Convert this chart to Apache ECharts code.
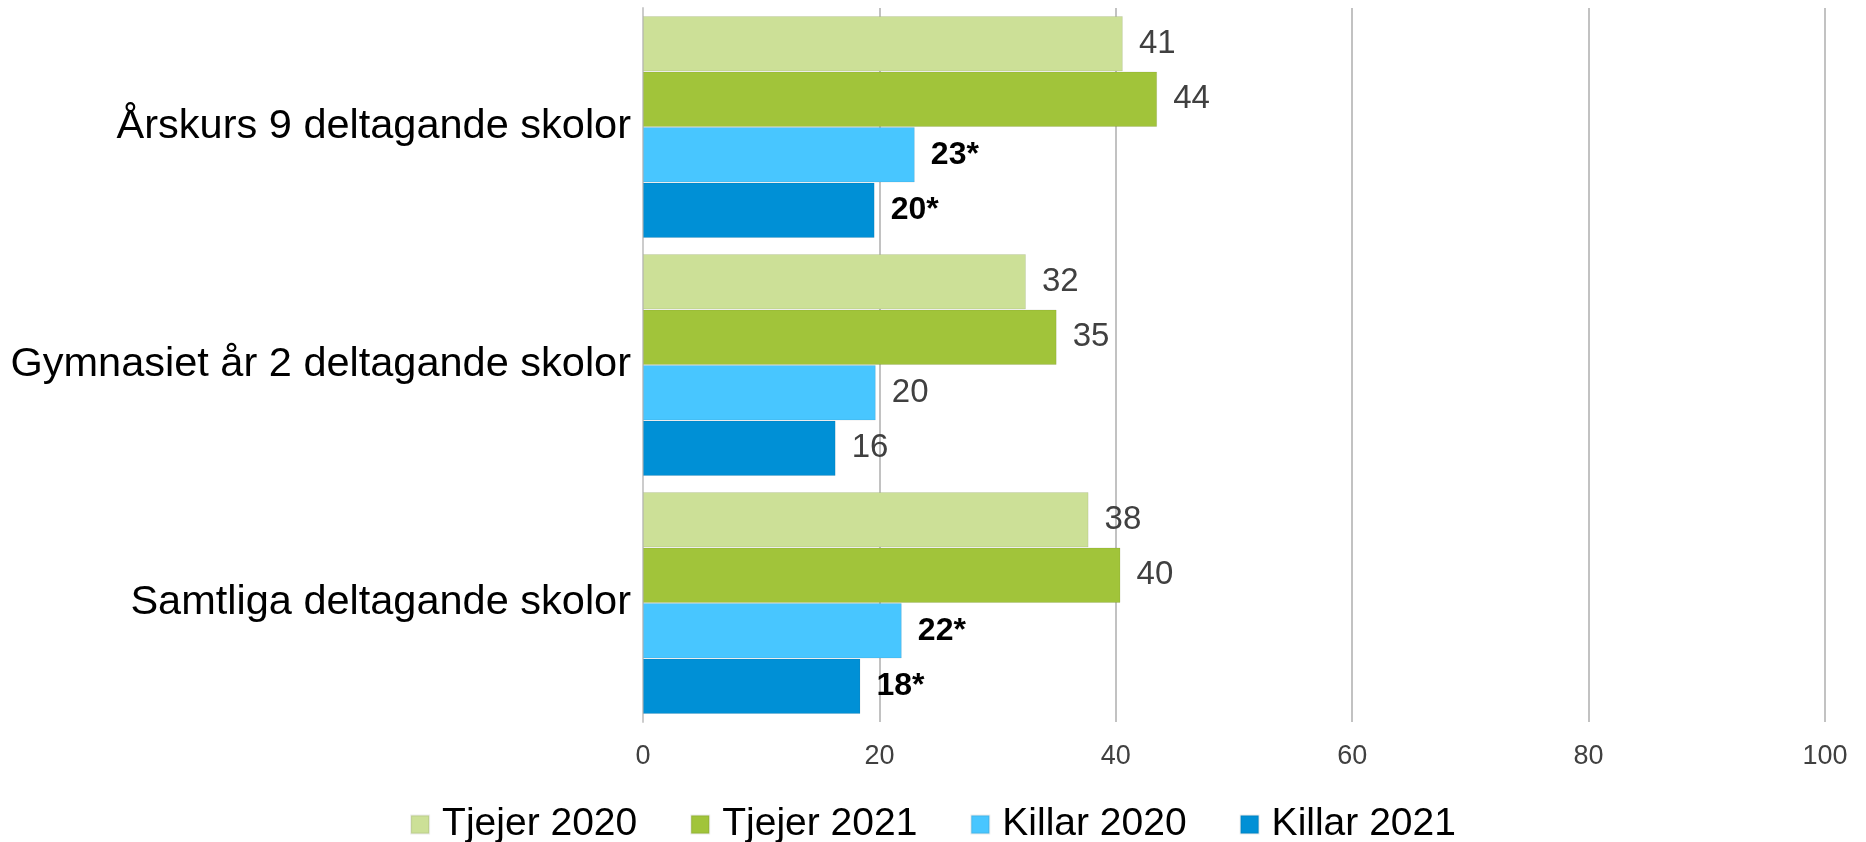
<!DOCTYPE html>
<html>
<head>
<meta charset="utf-8">
<script src="https://cdn.jsdelivr.net/npm/echarts@6/dist/echarts.min.js"></script>
<style>
html,body{margin:0;padding:0;background:#fff;}
#chart{width:1866px;height:842px;}
</style>
</head>
<body>
<div id="chart"></div>
<script>
const categories = ['Årskurs 9 deltagande skolor', 'Gymnasiet år 2 deltagande skolor', 'Samtliga deltagande skolor'];
const seriesNames = ['Tjejer 2020', 'Tjejer 2021', 'Killar 2020', 'Killar 2021'];
const tjejer2020 = [40.6, 32.4, 37.7];
const tjejer2021 = [43.5, 35.0, 40.4];
const killar2020 = [23.0, 19.7, 21.9];
const killar2021 = [19.6, 16.3, 18.4];
const labels2020T = ['41', '32', '38'];
const labels2021T = ['44', '35', '40'];
const labels2020K = ['23*', '20', '22*'];
const labels2021K = ['20*', '16', '18*'];
const xTickMin = 0, xTickMax = 100, xTickStep = 20;

const colors = ['#CCE097', '#A1C43A', '#48C6FF', '#0090D6'];
const allValues = [tjejer2020, tjejer2021, killar2020, killar2021];
const allLabels = [labels2020T, labels2021T, labels2020K, labels2021K];

const chart = echarts.init(document.getElementById('chart'));
const font = 'Liberation Sans, Arial, sans-serif';

const series = seriesNames.map((name, i) => ({
  name: name,
  type: 'bar',
  barGap: '0%',
  barCategoryGap: '6.7%',
  itemStyle: { color: colors[i], borderColor: 'rgba(0,0,0,0.08)', borderWidth: 1 },
  data: allValues[i],
  label: {
    show: true,
    position: 'right',
    distance: 16,
    fontFamily: font,
    formatter: (p) => {
      const t = allLabels[i][p.dataIndex];
      return t.indexOf('*') >= 0 ? '{b|' + t + '}' : '{n|' + t + '}';
    },
    rich: {
      n: { fontSize: 33, color: '#404040', fontFamily: font },
      b: { fontSize: 32, color: '#000', fontWeight: 'bold', fontFamily: font }
    }
  }
}));

chart.setOption({
  animation: false,
  color: colors,
  grid: { left: 643, right: 41, top: 8, bottom: 120, containLabel: false },
  xAxis: {
    type: 'value',
    min: xTickMin, max: xTickMax, interval: xTickStep,
    axisLine: { show: false },
    axisTick: { show: false },
    splitLine: { show: true, lineStyle: { color: '#c2c2c2', width: 2 } },
    axisLabel: { fontSize: 27, color: '#404040', fontFamily: font, margin: 21 }
  },
  yAxis: {
    type: 'category',
    inverse: true,
    data: categories,
    axisLine: { show: true, lineStyle: { color: '#cccccc', width: 2 } },
    axisTick: { show: false },
    axisLabel: { fontSize: 41.5, color: '#000', fontFamily: font, margin: 12 }
  },
  legend: {
    data: seriesNames,
    left: 'center',
    top: 800,
    icon: 'rect',
    itemWidth: 18,
    itemHeight: 18,
    itemGap: 53,
    textStyle: { fontSize: 39, color: '#000', fontFamily: font, padding: [0, 0, 0, 8] }
  },
  series: series
});
</script>
</body>
</html>
